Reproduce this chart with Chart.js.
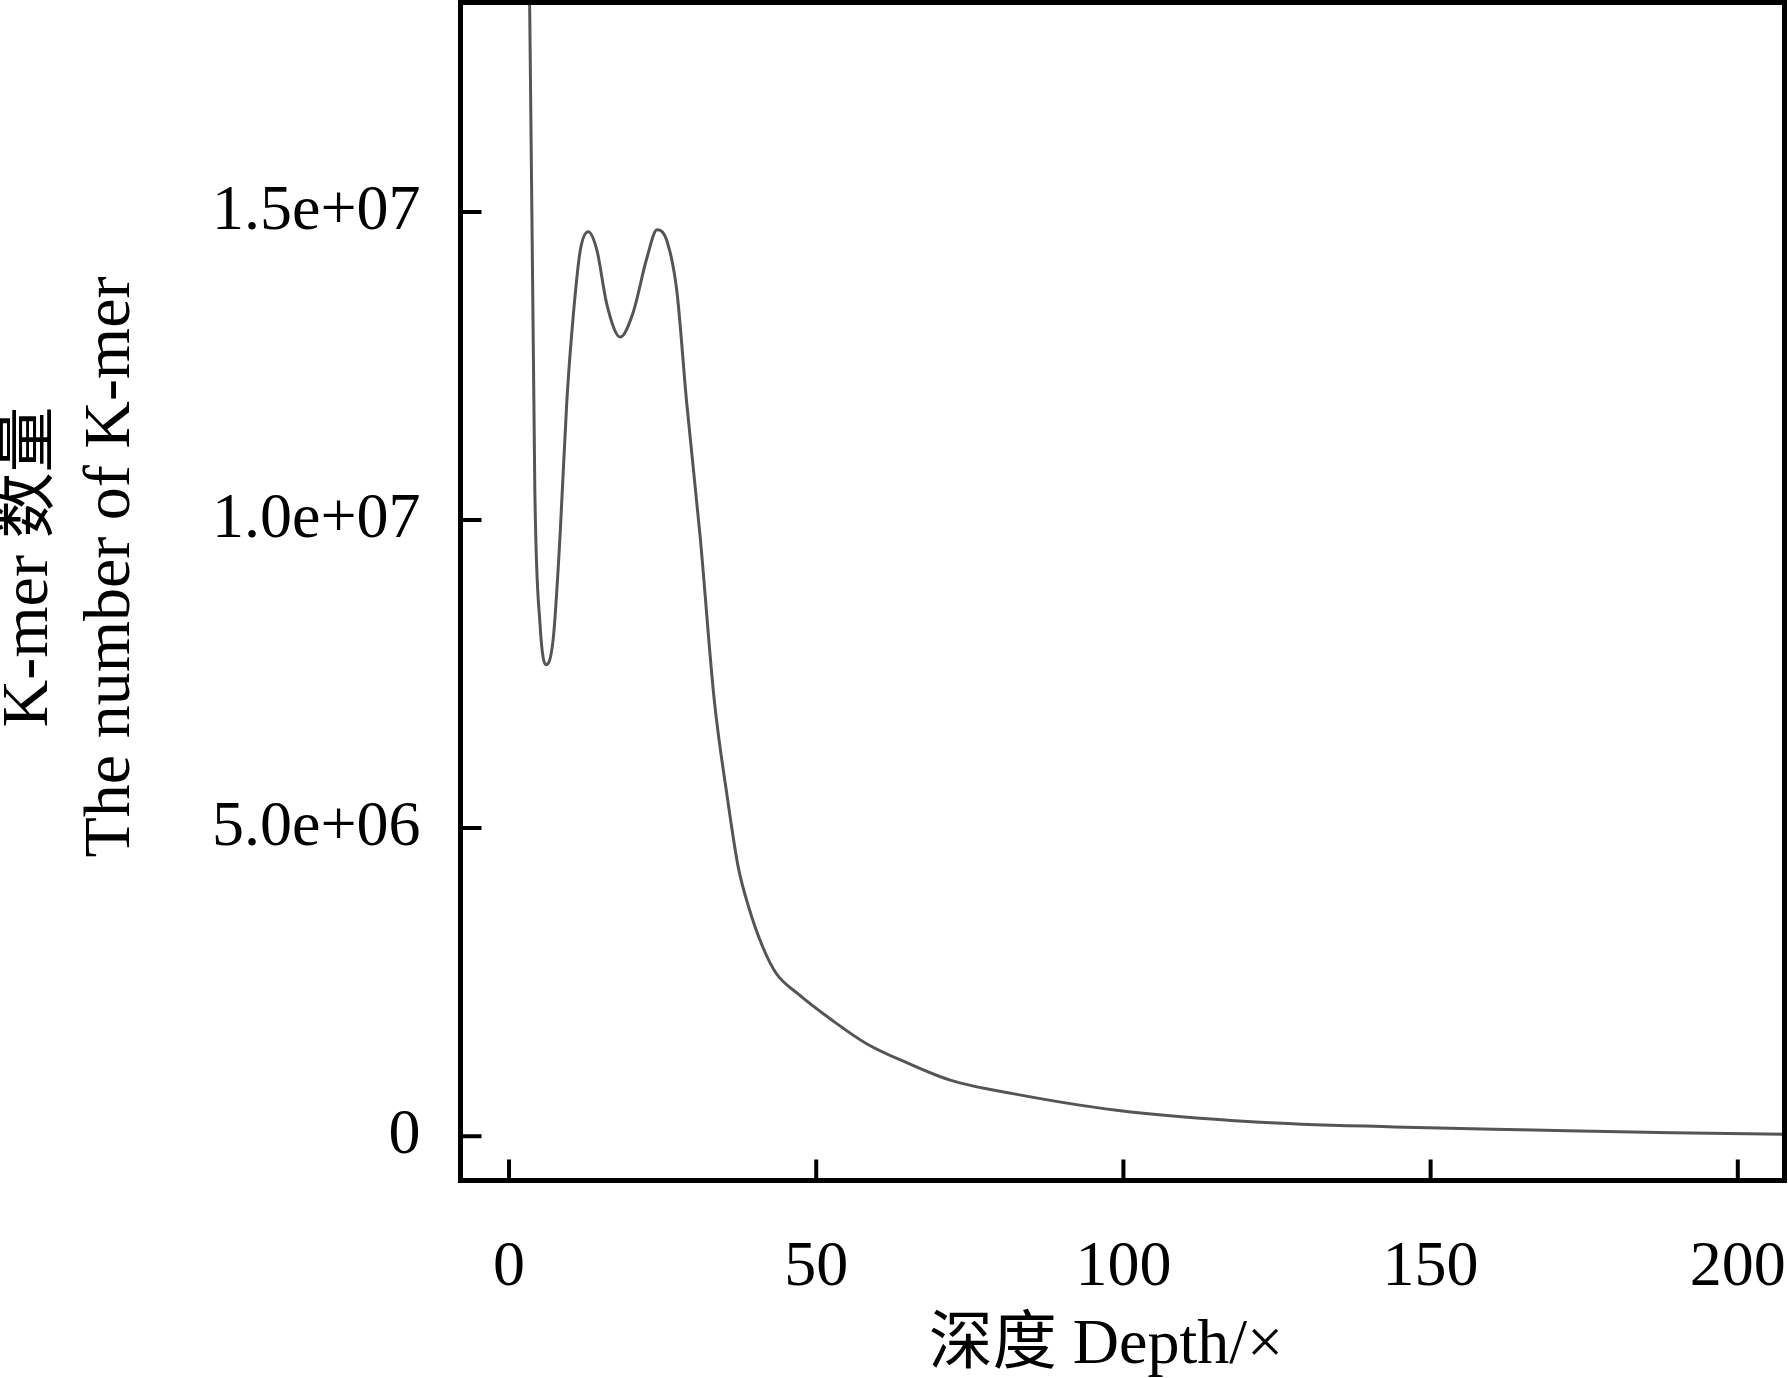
<!DOCTYPE html>
<html>
<head>
<meta charset="utf-8">
<title>K-mer depth distribution</title>
<script src="https://cdn.jsdelivr.net/npm/chart.js@4.4.0/dist/chart.umd.min.js"></script>
<style>
  body { margin: 0; background: #fff; }
  #wrap { width: 1788px; height: 1378px; position: relative; }
</style>
</head>
<body>
<div id="wrap"><canvas id="myChart"></canvas></div>
<script>
// K-mer depth vs count
const depth = [2.2, 4.2, 5.05, 6.0, 7.2, 8.3, 9.4, 10.5, 11.6, 12.9, 14.3, 15.9, 18.1, 20.2, 22.4, 24.1, 25.7, 27.3, 28.9, 31.1, 33.4, 35.6, 37.3, 39.0, 41.3, 43.5, 46.9, 52.6, 58.2, 65.0, 71.8, 82.0, 98.9, 121.5, 144.1, 166.7, 189.3, 207.4];
const kmerCount = [30.0e6, 10.47e6, 8.30e6, 7.65e6, 8.08e6, 9.74e6, 11.92e6, 13.37e6, 14.38e6, 14.68e6, 14.38e6, 13.51e6, 12.97e6, 13.37e6, 14.24e6, 14.71e6, 14.53e6, 13.73e6, 11.92e6, 9.74e6, 7.08e6, 5.45e6, 4.37e6, 3.72e6, 3.07e6, 2.64e6, 2.32e6, 1.88e6, 1.50e6, 1.18e6, 0.91e6, 0.69e6, 0.42e6, 0.23e6, 0.15e6, 0.10e6, 0.054e6, 0.032e6];

const xTicks = [0, 50, 100, 150, 200];
const yTicks = [0, 5e6, 1e7, 1.5e7];
const yTickLabels = ['0', '5.0e+06', '1.0e+07', '1.5e+07'];

const xTitle = '深度 Depth/×';
const yTitle = ['K-mer 数量', 'The number of K-mer'];

const serif = "'Liberation Serif', 'Times New Roman', 'Noto Sans CJK SC', serif";

// no label overhang padding, the frame is fixed
function noPad(s) {
    s.paddingTop = 0;
    s.paddingBottom = 0;
    s.paddingLeft = 0;
    s.paddingRight = 0;
}

// box frame, inward tick marks and axis titles
const framePlugin = {
    id: 'frame',
    afterDraw(chart) {
        const ctx = chart.ctx;
        const a = chart.chartArea;
        const xs = chart.scales.x;
        const ys = chart.scales.y;
        ctx.save();
        ctx.strokeStyle = '#000';
        ctx.lineWidth = 4;
        ctx.beginPath();
        xTicks.forEach(v => {
            const px = xs.getPixelForValue(v);
            ctx.moveTo(px, a.bottom);
            ctx.lineTo(px, a.bottom - 21);
        });
        yTicks.forEach(v => {
            const py = ys.getPixelForValue(v);
            ctx.moveTo(a.left, py);
            ctx.lineTo(a.left + 21, py);
        });
        ctx.stroke();

        ctx.lineWidth = 5;
        ctx.strokeRect(a.left, a.top, a.right - a.left, a.bottom - a.top);

        ctx.fillStyle = '#000';
        ctx.textAlign = 'center';
        ctx.textBaseline = 'middle';
        ctx.font = '64px ' + serif;
        ctx.fillText(xTitle, 1106, 1346);

        ctx.font = '66px ' + serif;
        const lineX = [30, 112];
        yTitle.forEach((t, i) => {
            ctx.save();
            ctx.translate(lineX[i], 567);
            ctx.rotate(-Math.PI / 2);
            ctx.fillText(t, 0, 0);
            ctx.restore();
        });
        ctx.restore();
    }
};

const ctx = document.getElementById('myChart').getContext('2d');
new Chart(ctx, {
    type: 'line',
    data: {
        datasets: [{
            data: depth.map((d, i) => ({ x: d, y: kmerCount[i] })),
            borderColor: '#555',
            borderWidth: 3,
            pointRadius: 0,
            fill: false,
            cubicInterpolationMode: 'monotone'
        }]
    },
    options: {
        responsive: true,
        maintainAspectRatio: false,
        animation: false,
        layout: { autoPadding: false, padding: { left: 0, top: 2.5, right: 3.5, bottom: 0 } },
        plugins: { legend: { display: false }, tooltip: { enabled: false } },
        scales: {
            x: {
                type: 'linear',
                min: -7.9,
                max: 207.6,
                grid: { display: false },
                border: { display: false },
                afterBuildTicks: s => { s.ticks = xTicks.map(v => ({ value: v })); },
                afterFit: s => { s.height = 197.5; noPad(s); },
                ticks: {
                    padding: 41,
                    color: '#000',
                    font: { family: serif, size: 64 },
                    maxRotation: 0,
                    callback: v => String(v)
                }
            },
            y: {
                type: 'linear',
                min: -0.72e6,
                max: 18.4e6,
                grid: { display: false },
                border: { display: false },
                afterBuildTicks: s => { s.ticks = yTicks.map(v => ({ value: v })); },
                afterFit: s => { s.width = 460.5; noPad(s); },
                ticks: {
                    padding: 32,
                    color: '#000',
                    font: { family: serif, size: 64 },
                    callback: v => yTickLabels[yTicks.indexOf(v)]
                }
            }
        }
    },
    plugins: [framePlugin]
});
</script>
</body>
</html>
